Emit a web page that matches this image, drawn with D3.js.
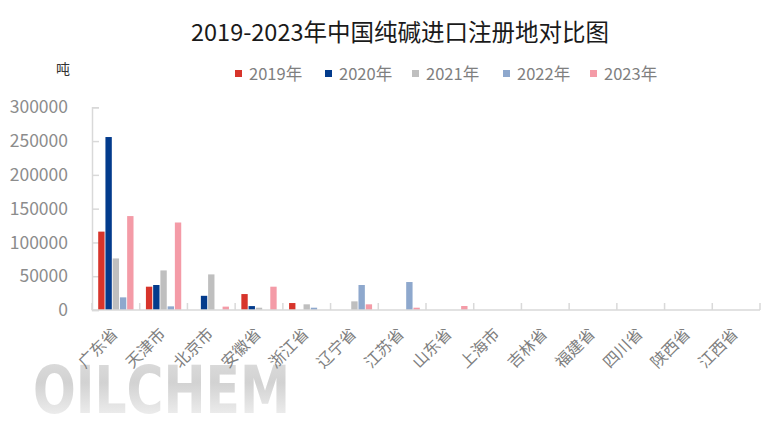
<!DOCTYPE html>
<html><head><meta charset="utf-8">
<script src="https://cdn.jsdelivr.net/npm/d3@7"></script>
<style>body{margin:0;background:#fff}svg{display:block}</style>
</head><body>
<svg id="c" width="783" height="443"></svg>
<script>
const categories = ["广东省","天津市","北京市","安徽省","浙江省","辽宁省","江苏省","山东省","上海市","吉林省","福建省","四川省","陕西省","江西省"];
const seriesNames = ["2019年","2020年","2021年","2022年","2023年"];
const v2019 = [116000, 34500, 0, 23600, 10300, 0, 0, 0, 0, 0, 0, 0, 0, 0];
const v2020 = [256000, 37000, 21000, 5800, 0, 0, 0, 0, 0, 0, 0, 0, 0, 0];
const v2021 = [76300, 58600, 52700, 3400, 8400, 12800, 0, 0, 0, 0, 0, 0, 0, 0];
const v2022 = [18700, 5400, 0, 0, 3400, 37000, 41400, 0, 0, 0, 0, 0, 0, 0];
const v2023 = [139000, 129500, 5000, 34500, 0, 8400, 3400, 5900, 0, 0, 0, 0, 0, 0];
const yTicks = [0, 50000, 100000, 150000, 200000, 250000, 300000];
const colors = ["#D7342B","#033B8C","#BFBFBF","#8EA8CD","#F49BA7"];
const seriesValues = [v2019, v2020, v2021, v2022, v2023];

const svg = d3.select("#c");
const L = 92, R = 760, T = 107.3, B = 310;

// watermark
const defs = svg.append("defs");
const g = defs.append("linearGradient").attr("id","wm").attr("x1",0).attr("y1",0).attr("x2",0).attr("y2",1);
g.append("stop").attr("offset","0%").attr("stop-color","#dedede");
g.append("stop").attr("offset","40%").attr("stop-color","#d2d2d2");
g.append("stop").attr("offset","100%").attr("stop-color","#f8f8f8");
svg.append("text").attr("x",33).attr("y",413).attr("textLength",257).attr("lengthAdjust","spacingAndGlyphs")
  .attr("font-family","DejaVu Sans, sans-serif").attr("font-weight","bold").attr("font-size",66)
  .attr("fill","url(#wm)").text("OILCHEM");

const y = d3.scaleLinear().domain([0,300000]).range([B,T]);
const x0 = d3.scaleBand().domain(categories).range([L,R]).paddingInner(0.26).paddingOuter(0.13);
const x1 = d3.scaleBand().domain(seriesNames).range([0,x0.bandwidth()]).paddingInner(0.12);

// title
svg.append("text").attr("x",400).attr("y",41).attr("text-anchor","middle")
  .attr("font-family","Noto Sans CJK SC, sans-serif").attr("font-size",23.5).attr("fill","#1a1a1a")
  .text("2019-2023年中国纯碱进口注册地对比图");
svg.append("text").attr("x",63).attr("y",74).attr("text-anchor","middle")
  .attr("font-family","Noto Sans CJK SC, sans-serif").attr("font-size",14).attr("fill","#333")
  .text("吨");

// legend
const legendX = [235, 325, 412, 503, 590];
const lg = svg.append("g");
seriesNames.forEach((s,i)=>{
  lg.append("rect").attr("x",legendX[i]).attr("y",70).attr("width",7).attr("height",7).attr("fill",colors[i]);
  lg.append("text").attr("x",legendX[i]+14).attr("y",80).attr("font-family","Noto Sans CJK SC, sans-serif")
    .attr("font-size",16.5).attr("fill","#7f7f7f").text(s);
});

// y axis
const yAxis = d3.axisLeft(y).tickValues(yTicks).tickSize(-7).tickPadding(24).tickFormat(d3.format("d"));
const ya = svg.append("g").attr("transform",`translate(${L},0)`).call(yAxis);
ya.select(".domain").attr("stroke","#d9d9d9").attr("stroke-width",1.5);
ya.selectAll(".tick line").attr("stroke","#d9d9d9").attr("stroke-width",1.5);
ya.selectAll(".tick text").attr("font-family","Noto Sans CJK SC, sans-serif").attr("font-size",17.5).attr("fill","#8c8c8c");

// bars
const bars = svg.append("g");
categories.forEach((c,ci)=>{
  seriesNames.forEach((s,si)=>{
    const v = seriesValues[si][ci];
    if(v<=0) return;
    bars.append("rect").attr("x",x0(c)+x1(s)).attr("y",y(v)).attr("width",x1.bandwidth())
      .attr("height",y(0)-y(v)).attr("fill",colors[si]);
  });
});

// x axis
const step = x0.step();
const xa = svg.append("g");
xa.append("line").attr("x1",L).attr("x2",R).attr("y1",B).attr("y2",B).attr("stroke","#d9d9d9").attr("stroke-width",1.5);
d3.range(categories.length+1).forEach(i=>{
  const xx = L + i*step;
  xa.append("line").attr("x1",xx).attr("x2",xx).attr("y1",B).attr("y2",B-7).attr("stroke","#d9d9d9").attr("stroke-width",1.5);
});
categories.forEach(c=>{
  const cx = x0(c)+x0.bandwidth()/2 + 3;
  xa.append("text").attr("transform",`translate(${cx},335) rotate(-45)`).attr("text-anchor","end")
    .attr("font-family","Noto Sans CJK SC, sans-serif").attr("font-size",16).attr("fill","#7f7f7f").text(c);
});
</script>
</body></html>
